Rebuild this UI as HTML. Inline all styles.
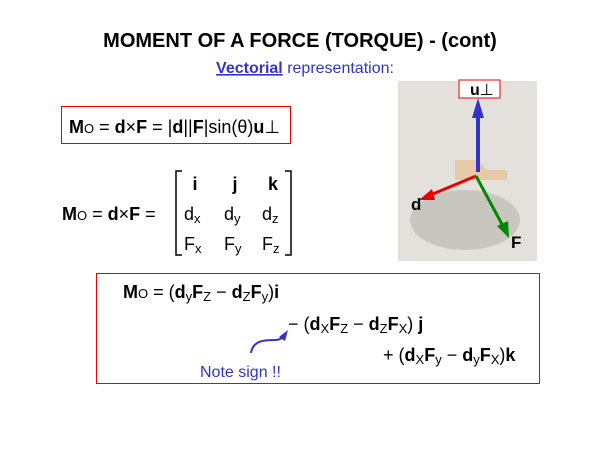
<!DOCTYPE html>
<html><head><meta charset="utf-8"><style>
html,body{margin:0;padding:0;background:#fff;}
svg{display:block;font-family:"Liberation Sans",sans-serif;}
</style></head><body>
<svg width="600" height="450" viewBox="0 0 600 450">
<text x="300" y="47" text-anchor="middle" font-size="20" font-weight="bold">MOMENT OF A FORCE (TORQUE) - (cont)</text>
<text x="305" y="73" text-anchor="middle" font-size="16" fill="#3333cc"><tspan font-weight="bold" text-decoration="underline">Vectorial</tspan> representation:</text>

<!-- picture -->
<rect x="398" y="81" width="139" height="180" fill="#e4e1dc"/>
<ellipse cx="465" cy="220" rx="55" ry="30" fill="#c9c6c0"/>
<path d="M455 160 h22 v20 h-22 z" fill="#e6c9a8"/>
<path d="M477 160 l10 10 h20 v10 h-30z" fill="#e6c9a8"/>
<rect x="459" y="80" width="41" height="18" fill="#fff" stroke="#e00" stroke-width="1"/>
<text x="470" y="95" font-size="16" font-weight="bold">u<tspan font-weight="normal">⊥</tspan></text>
<line x1="478" y1="172" x2="478" y2="110" stroke="#3333cc" stroke-width="4"/>
<polygon points="478,98 472,118 484,118" fill="#3333cc"/>
<line x1="476" y1="176" x2="428" y2="196" stroke="#ee0000" stroke-width="3"/>
<polygon points="419,200 432,189 435,200" fill="#ee0000"/>
<line x1="476" y1="176" x2="504" y2="228" stroke="#008800" stroke-width="3"/>
<polygon points="509,238 497,226 508,221" fill="#008800"/>
<text x="411" y="210" font-size="17" font-weight="bold">d</text>
<text x="511" y="248" font-size="17" font-weight="bold">F</text>

<!-- box 1 -->
<rect x="61.5" y="106.5" width="229" height="37" fill="none" stroke="#e00" stroke-width="1"/>
<text x="69" y="133" font-size="18"><tspan font-weight="bold">M</tspan><tspan font-size="13">O</tspan> = <tspan font-weight="bold">d</tspan>×<tspan font-weight="bold">F</tspan> = |<tspan font-weight="bold">d</tspan>||<tspan font-weight="bold">F</tspan>|sin(θ)<tspan font-weight="bold">u</tspan>⊥</text>

<!-- matrix -->
<text x="62" y="220" font-size="18"><tspan font-weight="bold">M</tspan><tspan font-size="13">O</tspan> = <tspan font-weight="bold">d</tspan>×<tspan font-weight="bold">F</tspan>  =</text>
<path d="M182 171 h-6 v84 h6 M285 171 h6 v84 h-6" fill="none" stroke="#000" stroke-width="1.5"/>
<g font-size="18">
<text x="195" y="190" font-weight="bold" text-anchor="middle">i</text>
<text x="235" y="190" font-weight="bold" text-anchor="middle">j</text>
<text x="273" y="190" font-weight="bold" text-anchor="middle">k</text>
<text x="184" y="220">d<tspan font-size="13" dy="3">x</tspan></text>
<text x="224" y="220">d<tspan font-size="13" dy="3">y</tspan></text>
<text x="262" y="220">d<tspan font-size="13" dy="3">z</tspan></text>
<text x="184" y="250">F<tspan font-size="13" dy="3">x</tspan></text>
<text x="224" y="250">F<tspan font-size="13" dy="3">y</tspan></text>
<text x="262" y="250">F<tspan font-size="13" dy="3">z</tspan></text>
</g>

<!-- box 2 -->
<rect x="96.5" y="273.5" width="443" height="110" fill="none" stroke="#e00" stroke-width="1"/>
<g font-size="18">
<text x="123" y="298"><tspan font-weight="bold">M</tspan><tspan font-size="13">O</tspan> = (<tspan font-weight="bold">d</tspan><tspan font-size="13" dy="3">y</tspan><tspan dy="-3" font-weight="bold">F</tspan><tspan font-size="13" dy="3">Z</tspan><tspan dy="-3"> − </tspan><tspan font-weight="bold">d</tspan><tspan font-size="13" dy="3">Z</tspan><tspan dy="-3" font-weight="bold">F</tspan><tspan font-size="13" dy="3">y</tspan><tspan dy="-3">)</tspan><tspan font-weight="bold">i</tspan></text>
<text x="288" y="330">− (<tspan font-weight="bold">d</tspan><tspan font-size="13" dy="3">X</tspan><tspan dy="-3" font-weight="bold">F</tspan><tspan font-size="13" dy="3">Z</tspan><tspan dy="-3"> − </tspan><tspan font-weight="bold">d</tspan><tspan font-size="13" dy="3">Z</tspan><tspan dy="-3" font-weight="bold">F</tspan><tspan font-size="13" dy="3">X</tspan><tspan dy="-3">) </tspan><tspan font-weight="bold">j</tspan></text>
<text x="383" y="361">+ (<tspan font-weight="bold">d</tspan><tspan font-size="13" dy="3">X</tspan><tspan dy="-3" font-weight="bold">F</tspan><tspan font-size="13" dy="3">y</tspan><tspan dy="-3"> − </tspan><tspan font-weight="bold">d</tspan><tspan font-size="13" dy="3">y</tspan><tspan dy="-3" font-weight="bold">F</tspan><tspan font-size="13" dy="3">X</tspan><tspan dy="-3">)</tspan><tspan font-weight="bold">k</tspan></text>
</g>
<path d="M251 353 C253 340 265 340 275 340 C280 340 283 338 286 333" fill="none" stroke="#3333cc" stroke-width="2"/>
<polygon points="288,330 279,337 285,341" fill="#3333cc"/>
<text x="200" y="377" font-size="16" fill="#3333cc">Note sign !!</text>
</svg>
</body></html>
